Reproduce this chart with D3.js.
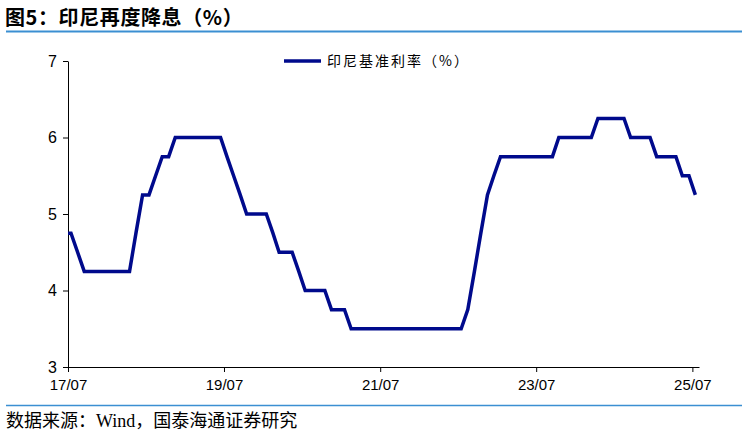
<!DOCTYPE html>
<html>
<head>
<meta charset="utf-8">
<script src="https://cdn.jsdelivr.net/npm/d3@7"></script>
<style>
  html, body { margin: 0; padding: 0; background: #fff; }
  svg { display: block; }
</style>
</head>
<body>
<svg id="chart" width="748" height="434"></svg>
<script>
// ---- data ----
const titleText = "图5：印尼再度降息（%）";
const sourceText = "数据来源：Wind，国泰海通证券研究";
const seriesName = "印尼基准利率（%）";
const startMonth = "2017-06";
// monthly policy rate, 2017-06 ... 2025-07
const rate2017 = [4.75, 4.75, 4.50, 4.25, 4.25, 4.25, 4.25];
const rate2018 = [4.25, 4.25, 4.25, 4.25, 4.75, 5.25, 5.25, 5.50, 5.75, 5.75, 6.00, 6.00];
const rate2019 = [6.00, 6.00, 6.00, 6.00, 6.00, 6.00, 5.75, 5.50, 5.25, 5.00, 5.00, 5.00];
const rate2020 = [5.00, 4.75, 4.50, 4.50, 4.50, 4.25, 4.00, 4.00, 4.00, 4.00, 3.75, 3.75];
const rate2021 = [3.75, 3.50, 3.50, 3.50, 3.50, 3.50, 3.50, 3.50, 3.50, 3.50, 3.50, 3.50];
const rate2022 = [3.50, 3.50, 3.50, 3.50, 3.50, 3.50, 3.50, 3.75, 4.25, 4.75, 5.25, 5.50];
const rate2023 = [5.75, 5.75, 5.75, 5.75, 5.75, 5.75, 5.75, 5.75, 5.75, 6.00, 6.00, 6.00];
const rate2024 = [6.00, 6.00, 6.00, 6.25, 6.25, 6.25, 6.25, 6.25, 6.00, 6.00, 6.00, 6.00];
const rate2025 = [5.75, 5.75, 5.75, 5.75, 5.50, 5.50, 5.25];
const xTickLabels = ["17/07", "19/07", "21/07", "23/07", "25/07"];
const xTickDates = ["2017-07-01", "2019-07-01", "2021-07-01", "2023-07-01", "2025-07-01"];
const yTicks = [3, 4, 5, 6, 7];

const values = [].concat(rate2017, rate2018, rate2019, rate2020, rate2021, rate2022, rate2023, rate2024, rate2025);
const parseMonth = d3.timeParse("%Y-%m");
const parseDay = d3.timeParse("%Y-%m-%d");
const start = parseMonth(startMonth);
const data = values.map((v, i) => {
  const m = d3.timeMonth.offset(start, i);
  return { date: d3.timeDay.offset(m, 14), value: v };
});

// ---- layout ----
const svg = d3.select("#chart");
const blue = "#3b8fd2";
const navy = "#000a8c";
const plot = { left: 68, right: 699, top: 61, bottom: 367 };

const x = d3.scaleTime()
  .domain([parseDay("2017-07-01"), parseDay("2025-08-01")])
  .range([plot.left, plot.right]);
const y = d3.scaleLinear().domain([3, 7]).range([plot.bottom, plot.top]);

// title
svg.append("text")
  .attr("x", 5).attr("y", 25)
  .attr("font-family", "'Noto Sans CJK SC', sans-serif")
  .attr("font-weight", "bold")
  .attr("font-size", 20)
  .attr("letter-spacing", 0.6)
  .attr("fill", "#000")
  .text(titleText);
svg.append("line")
  .attr("x1", 6).attr("x2", 742).attr("y1", 31.5).attr("y2", 31.5)
  .attr("stroke", blue).attr("stroke-width", 2);

// footer
svg.append("line")
  .attr("x1", 6).attr("x2", 742).attr("y1", 405.5).attr("y2", 405.5)
  .attr("stroke", blue).attr("stroke-width", 1.5);
svg.append("text")
  .attr("x", 6).attr("y", 427)
  .attr("font-family", "'Liberation Serif', 'Noto Sans CJK SC', serif")
  .attr("font-size", 18)
  .attr("fill", "#000")
  .text(sourceText);

// clip
svg.append("clipPath").attr("id", "plotclip")
  .append("rect")
  .attr("x", plot.left).attr("y", 0)
  .attr("width", plot.right - plot.left + 5).attr("height", 434);

// y axis
const yAxis = svg.append("g")
  .attr("transform", `translate(${plot.left},0)`)
  .call(d3.axisLeft(y).tickValues(yTicks).tickFormat(d3.format("d")).tickSize(5).tickSizeOuter(0).tickPadding(6));
yAxis.select(".domain").attr("stroke", "#000");
yAxis.selectAll(".tick line").attr("stroke", "#000");
yAxis.selectAll(".tick text")
  .attr("font-family", "'Liberation Sans', Arial, sans-serif")
  .attr("font-size", 16)
  .attr("fill", "#000");

// x axis
const xAxis = svg.append("g")
  .attr("transform", `translate(0,${plot.bottom})`)
  .call(d3.axisBottom(x)
    .tickValues(xTickDates.map(parseDay))
    .tickFormat((d, i) => xTickLabels[i])
    .tickSize(5).tickSizeOuter(0).tickPadding(7));
xAxis.select(".domain").attr("stroke", "#000");
xAxis.selectAll(".tick line").attr("stroke", "#000");
xAxis.selectAll(".tick text")
  .attr("font-family", "'Liberation Sans', Arial, sans-serif")
  .attr("font-size", 15)
  .attr("fill", "#000");

// line
const line = d3.line().x(d => x(d.date)).y(d => y(d.value));
svg.append("path")
  .datum(data)
  .attr("clip-path", "url(#plotclip)")
  .attr("fill", "none")
  .attr("stroke", navy)
  .attr("stroke-width", 3.5)
  .attr("stroke-linejoin", "miter")
  .attr("d", line);

// legend
const lg = svg.append("g").attr("transform", "translate(284,61)");
lg.append("line").attr("x1", 0).attr("x2", 37).attr("y1", 0).attr("y2", 0)
  .attr("stroke", navy).attr("stroke-width", 3.5);
lg.append("text")
  .attr("x", 43).attr("y", 5)
  .attr("font-family", "'Noto Sans CJK SC', sans-serif")
  .attr("font-size", 14)
  .attr("letter-spacing", 2)
  .attr("fill", "#000")
  .text(seriesName);
</script>
</body>
</html>
